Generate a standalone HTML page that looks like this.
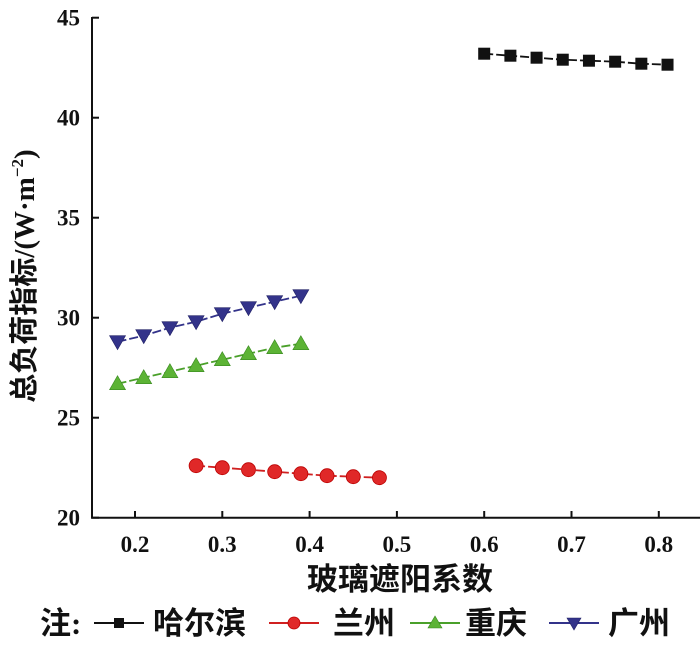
<!DOCTYPE html>
<html><head><meta charset="utf-8"><style>
body{margin:0;background:#fff}
svg text{font-family:"Liberation Serif","Noto Serif CJK SC",serif;fill:#111}
</style></head><body>
<svg id="c" width="700" height="647" viewBox="0 0 700 647" xmlns="http://www.w3.org/2000/svg">
<g id="axes"></g>
<g id="plot"></g>
<text transform="translate(34,276) rotate(-90)" text-anchor="middle" font-size="29" font-weight="bold" style="font-family:'Liberation Serif','Noto Sans CJK SC',sans-serif">总负荷指标/(W·m<tspan font-size="17" dy="-11">−2</tspan><tspan dy="11">)</tspan></text>
<text x="400" y="590" text-anchor="middle" font-size="31" font-weight="bold" style="font-family:'Liberation Serif','Noto Sans CJK SC',sans-serif">玻璃遮阳系数</text>
<g id="legend"></g>
</svg>
<script>
const xTicks=[0.2,0.3,0.4,0.5,0.6,0.7,0.8];
const yTicks=[20,25,30,35,40,45];
const seriesNames=["哈尔滨","兰州","重庆","广州"];
const xHarbin=[0.60,0.63,0.66,0.69,0.72,0.75,0.78,0.81];
const yHarbin=[43.2,43.1,43.0,42.9,42.85,42.8,42.7,42.65];
const xLanzhou=[0.27,0.30,0.33,0.36,0.39,0.42,0.45,0.48];
const yLanzhou=[22.6,22.5,22.4,22.3,22.2,22.1,22.05,22.0];
const xChongqing=[0.18,0.21,0.24,0.27,0.30,0.33,0.36,0.39];
const yChongqing=[26.7,27.0,27.3,27.6,27.9,28.2,28.5,28.7];
const xGuangzhou=[0.18,0.21,0.24,0.27,0.30,0.33,0.36,0.39];
const yGuangzhou=[28.8,29.1,29.5,29.8,30.2,30.5,30.8,31.1];

const NS="http://www.w3.org/2000/svg";
const X=v=>135+(v-0.2)*873;
const Y=v=>517.7-(v-20)*20;
function mk(tag,attrs,parent){const e=document.createElementNS(NS,tag);for(const k in attrs)e.setAttribute(k,attrs[k]);parent.appendChild(e);return e;}
const axes=document.getElementById('axes'),plot=document.getElementById('plot'),legend=document.getElementById('legend');
let a=mk('line',{x1:92,y1:17,x2:92,y2:518,stroke:'#111','stroke-width':2},axes);

a=mk('line',{x1:91,y1:517.7,x2:700,y2:517.7,stroke:'#111','stroke-width':2},axes);

xTicks.forEach(t=>{
 const l=mk('line',{x1:X(t),y1:517.7,x2:X(t),y2:511,stroke:'#111','stroke-width':2},axes);
 
 const tx=mk('text',{x:X(t),y:552,'text-anchor':'middle','font-size':23,'font-weight':'bold'},axes);tx.textContent=t.toFixed(1);
 
});
yTicks.forEach(t=>{
 const l=mk('line',{x1:92,y1:Y(t),x2:99,y2:Y(t),stroke:'#111','stroke-width':2},axes);
 
 const tx=mk('text',{x:80,y:Y(t)+8,'text-anchor':'end','font-size':23,'font-weight':'bold'},axes);tx.textContent=t;
 
});
function marker(type,cx,cy,color,parent,s){
 s=s||7;let e;
 if(type==='sq')e=mk('rect',{x:cx-s+1,y:cy-s+1,width:2*s-2,height:2*s-2,fill:color},parent);
 else if(type==='ci')e=mk('circle',{cx:cx,cy:cy,r:s,fill:color,stroke:'#b00','stroke-width':0.8},parent);
 else if(type==='up')e=mk('polygon',{points:`${cx},${cy-s-1} ${cx-s-1},${cy+s-1} ${cx+s+1},${cy+s-1}`,fill:color,stroke:'#3a8a20','stroke-width':0.6},parent);
 else e=mk('polygon',{points:`${cx-s-1},${cy-s+1} ${cx+s+1},${cy-s+1} ${cx},${cy+s+1}`,fill:color,stroke:'#222266','stroke-width':0.6},parent);
 return e;
}
const series=[
 {xs:xHarbin,ys:yHarbin,m:'sq',c:'#111',lc:'#111',n:'harbin'},
 {xs:xLanzhou,ys:yLanzhou,m:'ci',c:'#e02828',lc:'#d02020',n:'lanzhou'},
 {xs:xChongqing,ys:yChongqing,m:'up',c:'#5cb335',lc:'#4aa02a',n:'chongqing'},
 {xs:xGuangzhou,ys:yGuangzhou,m:'dn',c:'#33338a',lc:'#33338a',n:'guangzhou'}];
series.forEach(s=>{
 const g=mk('g',{},plot);
 const pl=mk('polyline',{points:s.xs.map((x,i)=>X(x)+','+Y(s.ys[i])).join(' '),fill:'none',stroke:s.lc,'stroke-width':1.8,'stroke-dasharray':'9,3'},g);
 
 s.xs.forEach((x,i)=>{const p=marker(s.m,X(x),Y(s.ys[i]),s.c,g);
  });
});
// legend
const lt=mk('text',{x:40,y:634,'font-size':31,'font-weight':'bold',style:"font-family:'Liberation Serif','Noto Sans CJK SC',sans-serif"},legend);lt.textContent='注:';

const lx=[94,269,410,549];
const tx0=[153,333,465,608];
series.forEach((s,i)=>{
 const g=mk('g',{},legend);
 mk('line',{x1:lx[i],y1:623,x2:lx[i]+50,y2:623,stroke:s.lc,'stroke-width':2},g);
 marker(s.m,lx[i]+25,623,s.c,g,6);
 const t=mk('text',{x:tx0[i],y:634,'font-size':31,'font-weight':'bold',style:"font-family:'Liberation Serif','Noto Sans CJK SC',sans-serif"},g);t.textContent=seriesNames[i];
});
</script>
</body></html>
